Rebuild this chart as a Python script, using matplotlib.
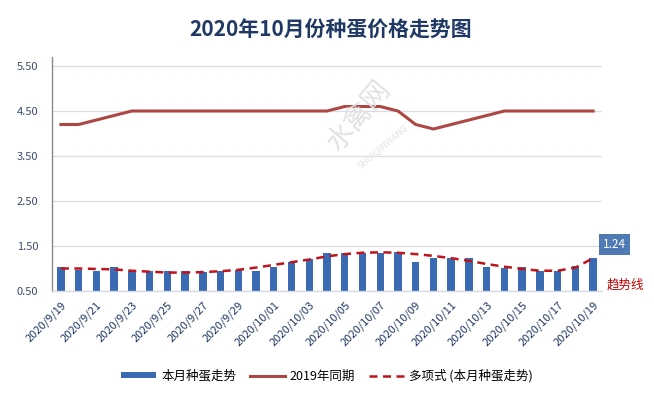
import matplotlib
matplotlib.use("Agg")
import matplotlib.pyplot as plt
import numpy as np

plt.rcParams["font.family"] = ["Noto Sans CJK SC", "DejaVu Sans"]
plt.rcParams["axes.unicode_minus"] = False

# 2020/9/19 .. 2020/10/19
dates = [f"2020/9/{d}" for d in range(19, 31)] + [f"2020/10/{d:02d}" for d in range(1, 20)]

this_month = [1.03, 0.97, 0.95, 1.03, 0.94, 0.94, 0.94, 0.94, 0.93, 0.95,
              0.97, 0.95, 1.04, 1.15, 1.21, 1.34, 1.35, 1.35, 1.35, 1.36,
              1.15, 1.24, 1.23, 1.24, 1.04, 1.02, 1.03, 0.95, 0.95, 1.05, 1.24]

last_year = [4.2, 4.2, 4.3, 4.4, 4.5, 4.5, 4.5, 4.5, 4.5, 4.5,
             4.5, 4.5, 4.5, 4.5, 4.5, 4.5, 4.6, 4.6, 4.6, 4.5,
             4.2, 4.1, 4.2, 4.3, 4.4, 4.5, 4.5, 4.5, 4.5, 4.5, 4.5]

trend = [1.00, 1.00, 0.99, 0.98, 0.95, 0.93, 0.91, 0.91, 0.92, 0.94,
         0.97, 1.02, 1.08, 1.14, 1.20, 1.27, 1.32, 1.35, 1.36, 1.35,
         1.32, 1.28, 1.23, 1.17, 1.10, 1.04, 0.99, 0.95, 0.95, 1.02, 1.23]

y_ticks = [0.5, 1.5, 2.5, 3.5, 4.5, 5.5]

BAR_COLOR = "#3a6ab2"
LINE_COLOR = "#ad4743"
TREND_COLOR = "#c0141c"
NAVY = "#1f3864"

fig = plt.figure(figsize=(6.54, 3.97), dpi=100)
fig.set_facecolor("#ffffff")
ax = fig.add_axes([0.0795, 0.267, 0.841, 0.5894])

x = np.arange(len(dates))

# faint watermark
fig.text(0.548, 0.71, "水禽网", rotation=50, fontsize=20, color="#e2e2e2",
         ha="center", va="center", zorder=0)
fig.text(0.585, 0.63, "SHUIQINWANG", rotation=40, fontsize=6.5, color="#e4e4e4",
         ha="center", va="center", zorder=0)

bars = ax.bar(x, this_month, width=0.42, bottom=0, color=BAR_COLOR, label="本月种蛋走势", zorder=2)
line, = ax.plot(x, last_year, color=LINE_COLOR, linewidth=2.2, label="2019年同期", zorder=3)
trend_line, = ax.plot(x, trend, color=TREND_COLOR, linewidth=1.8, linestyle=(0, (3.2, 2.2)),
                      label="多项式 (本月种蛋走势)", zorder=4)

ax.set_xlim(-0.5, len(dates) - 0.5)
ax.set_ylim(0.5, 5.7)
ax.set_yticks(y_ticks)
ax.set_yticklabels([f"{v:.2f}" for v in y_ticks], fontsize=8, color="#3b4e6b")
ax.set_xticks(x[::2])
ax.set_xticklabels(dates[::2], rotation=45, ha="right", va="top",
                   rotation_mode="anchor", fontsize=8, color=NAVY)
ax.tick_params(axis="both", length=0)
ax.tick_params(axis="y", pad=10)
ax.tick_params(axis="x", pad=6)

ax.grid(axis="y", color="#dcdce6", linewidth=0.9, zorder=0)
ax.set_axisbelow(True)
for side in ("top", "right"):
    ax.spines[side].set_visible(False)
ax.spines["left"].set_color("#8c8c8c")
ax.spines["left"].set_linewidth(1.0)
ax.spines["bottom"].set_color("#d6dbe6")
ax.spines["bottom"].set_linewidth(1.0)

# data label on the last bar
ax.annotate(f"{this_month[-1]:.2f}", xy=(x[-1], this_month[-1]), xytext=(7, 5),
            textcoords="offset points", ha="left", va="bottom", fontsize=8.5,
            color="white", zorder=5,
            bbox=dict(boxstyle="square,pad=0.35", facecolor="#4f7ab4", edgecolor="none"))

fig.text(0.957, 0.283, "趋势线", fontsize=9, color="#c00000", ha="center", va="center")

fig.suptitle("2020年10月份种蛋价格走势图", x=0.505, y=0.95, fontsize=15,
             fontweight="bold", color=NAVY)

fig.legend([bars, line, trend_line], ["本月种蛋走势", "2019年同期", "多项式 (本月种蛋走势)"],
           loc="center", bbox_to_anchor=(0.5, 0.053), ncol=3,
           frameon=False, fontsize=9, handlelength=2.8, handleheight=0.4,
           columnspacing=1.1, handletextpad=0.4)

fig.savefig("out.png", dpi=100, facecolor=fig.get_facecolor())
